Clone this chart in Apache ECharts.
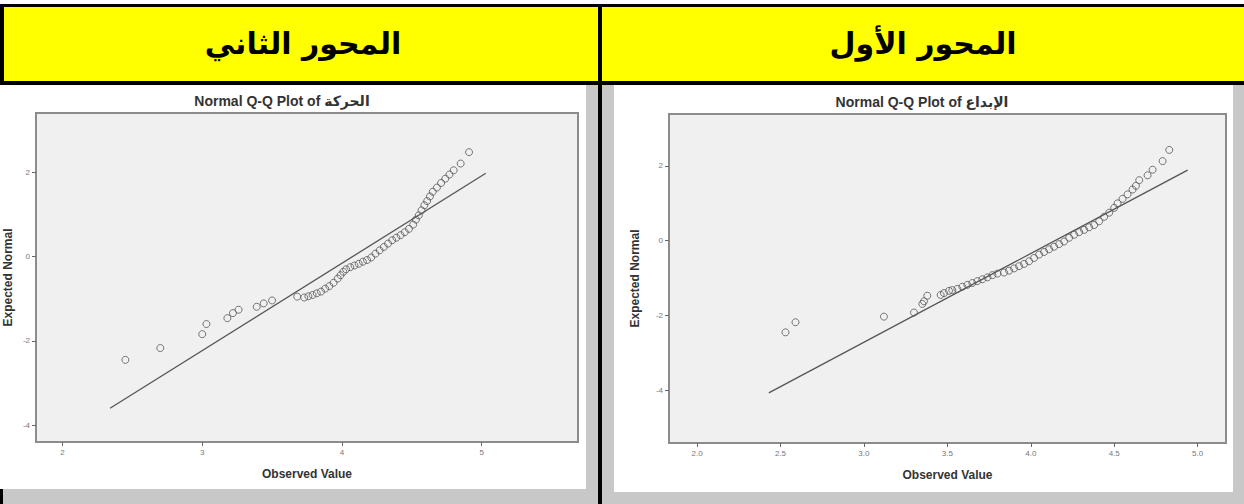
<!DOCTYPE html>
<html>
<head>
<meta charset="utf-8">
<script src="https://cdn.jsdelivr.net/npm/echarts@6/dist/echarts.min.js"></script>
<style>
  html, body { margin: 0; padding: 0; background: #fff; }
  #chart { width: 1244px; height: 504px; }
</style>
</head>
<body>
<div id="chart"></div>
<script>
// headers of the two table columns (right column is the first axis)
const headers = ['المحور الثاني', 'المحور الأول']
const plotTitles = ['Normal Q-Q Plot of الحركة', 'Normal Q-Q Plot of الإبداع']

// left plot: observed value / expected normal
const obs2 = [2.45, 2.70, 3.00, 3.03, 3.18, 3.22, 3.26, 3.39, 3.44, 3.50, 3.68,
  3.73, 3.76, 3.79, 3.82, 3.85, 3.88, 3.91, 3.94, 3.97, 3.99, 4.01, 4.03, 4.06,
  4.09, 4.12, 4.15, 4.18, 4.21, 4.24, 4.27, 4.30, 4.33, 4.36, 4.39, 4.42, 4.45,
  4.48, 4.51, 4.53, 4.55, 4.57, 4.59, 4.61, 4.63, 4.65, 4.68, 4.71, 4.74, 4.77,
  4.80, 4.85, 4.91]
const exp2 = [-2.45, -2.17, -1.84, -1.60, -1.46, -1.34, -1.26, -1.19, -1.11, -1.04, -0.95,
  -0.97, -0.94, -0.91, -0.87, -0.83, -0.76, -0.70, -0.62, -0.52, -0.44, -0.36, -0.30, -0.25,
  -0.21, -0.17, -0.12, -0.08, -0.02, 0.07, 0.15, 0.23, 0.31, 0.39, 0.45, 0.51, 0.58,
  0.66, 0.76, 0.88, 0.98, 1.10, 1.22, 1.32, 1.43, 1.54, 1.64, 1.75, 1.85, 1.95,
  2.05, 2.21, 2.48]
const line2 = [[2.34, -3.60], [5.03, 1.98]]

// right plot
const obs1 = [2.53, 2.59, 3.12, 3.30, 3.35, 3.36, 3.38, 3.46, 3.48, 3.51, 3.53, 3.56,
  3.59, 3.62, 3.65, 3.68, 3.71, 3.74, 3.77, 3.80, 3.84, 3.87, 3.90, 3.93, 3.96,
  3.99, 4.02, 4.05, 4.08, 4.11, 4.14, 4.17, 4.20, 4.23, 4.26, 4.29, 4.32, 4.35,
  4.38, 4.41, 4.44, 4.47, 4.50, 4.52, 4.55, 4.58, 4.61, 4.63, 4.65, 4.70, 4.73,
  4.79, 4.83]
const exp1 = [-2.45, -2.18, -2.03, -1.92, -1.69, -1.62, -1.47, -1.45, -1.40, -1.34, -1.32, -1.29,
  -1.23, -1.18, -1.13, -1.08, -1.03, -0.98, -0.92, -0.88, -0.85, -0.80, -0.74, -0.68, -0.62,
  -0.55, -0.46, -0.37, -0.30, -0.23, -0.16, -0.09, -0.02, 0.08, 0.16, 0.23, 0.29, 0.36,
  0.42, 0.52, 0.64, 0.75, 0.88, 1.00, 1.12, 1.24, 1.37, 1.47, 1.62, 1.75, 1.90,
  2.13, 2.43]
const line1 = [[2.43, -4.07], [4.94, 1.89]]

const xTicks2 = [2, 3, 4, 5]
const xTicks1 = [2.0, 2.5, 3.0, 3.5, 4.0, 4.5, 5.0]
const yTicks = [-4, -2, 0, 2]

const latin = '"Liberation Sans", "DejaVu Sans", sans-serif'

function pairs(xs, ys) {
  return xs.map((x, i) => [x, ys[i]])
}

function xAxisOf(idx, min, max, ticks, digits) {
  return {
    type: 'value', gridIndex: idx, min, max,
    splitLine: { show: false },
    axisLine: { show: false, onZero: false },
    axisTick: { show: true, length: 4, customValues: ticks, lineStyle: { color: '#666' } },
    axisLabel: {
      customValues: ticks, fontSize: 8, color: '#777', margin: 6, fontFamily: latin,
      formatter: (v) => v.toFixed(digits),
    },
    name: 'Observed Value', nameLocation: 'middle', nameGap: 26,
    nameTextStyle: { fontSize: 12, fontWeight: 'bold', color: '#333', fontFamily: latin },
  }
}

function yAxisOf(idx, min, max, gap) {
  return {
    type: 'value', gridIndex: idx, min, max,
    splitLine: { show: false },
    axisLine: { show: false, onZero: false },
    axisTick: { show: true, length: 4, customValues: yTicks, lineStyle: { color: '#666' } },
    axisLabel: { customValues: yTicks, fontSize: 8, color: '#777', margin: 6, fontFamily: latin },
    name: 'Expected Normal', nameLocation: 'middle', nameGap: gap, nameMoveOverlap: false,
    nameTextStyle: { fontSize: 12, fontWeight: 'bold', color: '#333', fontFamily: latin },
  }
}

const dot = {
  type: 'scatter', symbol: 'circle', symbolSize: 7,
  itemStyle: { color: 'rgba(0,0,0,0)', borderColor: '#555', borderWidth: 1 },
  z: 3,
}
const fit = {
  type: 'line', showSymbol: false, silent: true,
  lineStyle: { color: '#555', width: 1.3 }, z: 2,
}

const chart = echarts.init(document.getElementById('chart'), null, { renderer: 'svg' })
chart.setOption({
  animation: false,
  backgroundColor: '#fff',
  grid: [
    { left: 36, top: 113, width: 542, height: 329, outerBoundsMode: 'none', show: true, backgroundColor: '#f0f0f0', borderColor: '#8c8c8c', borderWidth: 2 },
    { left: 669, top: 114, width: 557, height: 329, outerBoundsMode: 'none', show: true, backgroundColor: '#f0f0f0', borderColor: '#8c8c8c', borderWidth: 2 },
  ],
  xAxis: [
    xAxisOf(0, 1.81, 5.69, xTicks2, 0),
    xAxisOf(1, 1.832, 5.17, xTicks1, 1),
  ],
  yAxis: [
    yAxisOf(0, -4.40, 3.41, 22),
    yAxisOf(1, -5.41, 3.39, 28),
  ],
  series: [
    { ...fit, xAxisIndex: 0, yAxisIndex: 0, data: line2 },
    { ...dot, xAxisIndex: 0, yAxisIndex: 0, data: pairs(obs2, exp2) },
    { ...fit, xAxisIndex: 1, yAxisIndex: 1, data: line1 },
    { ...dot, xAxisIndex: 1, yAxisIndex: 1, data: pairs(obs1, exp1) },
  ],
  graphic: [
    // table frame and grey page margins
    { type: 'rect', z: -10, shape: { x: 0, y: 4, width: 1244, height: 500 }, style: { fill: '#000' } },
    { type: 'rect', z: -9, shape: { x: 4, y: 7, width: 594, height: 74 }, style: { fill: '#ffff00' } },
    { type: 'rect', z: -9, shape: { x: 602, y: 7, width: 642, height: 74 }, style: { fill: '#ffff00' } },
    { type: 'rect', z: -9, shape: { x: 3, y: 85, width: 595, height: 419 }, style: { fill: '#c8c8c8' } },
    { type: 'rect', z: -9, shape: { x: 602, y: 85, width: 642, height: 419 }, style: { fill: '#c8c8c8' } },
    { type: 'rect', z: -8, shape: { x: 0, y: 85, width: 586, height: 404 }, style: { fill: '#fff' } },
    { type: 'rect', z: -8, shape: { x: 614, y: 85, width: 619, height: 407 }, style: { fill: '#fff' } },
    {
      type: 'text', z: 10, x: 303, y: 43,
      style: { text: headers[0], fill: '#000', font: 'bold 30px "DejaVu Sans", sans-serif', align: 'center', verticalAlign: 'middle' },
    },
    {
      type: 'text', z: 10, x: 923, y: 43,
      style: { text: headers[1], fill: '#000', font: 'bold 30px "DejaVu Sans", sans-serif', align: 'center', verticalAlign: 'middle' },
    },
    {
      type: 'text', z: 10, x: 282, y: 101,
      style: { text: plotTitles[0], fill: '#333', font: 'bold 14px "Liberation Sans", "DejaVu Sans", sans-serif', align: 'center', verticalAlign: 'middle' },
    },
    {
      type: 'text', z: 10, x: 922, y: 102,
      style: { text: plotTitles[1], fill: '#333', font: 'bold 14px "Liberation Sans", "DejaVu Sans", sans-serif', align: 'center', verticalAlign: 'middle' },
    },
  ],
})
</script>
</body>
</html>
